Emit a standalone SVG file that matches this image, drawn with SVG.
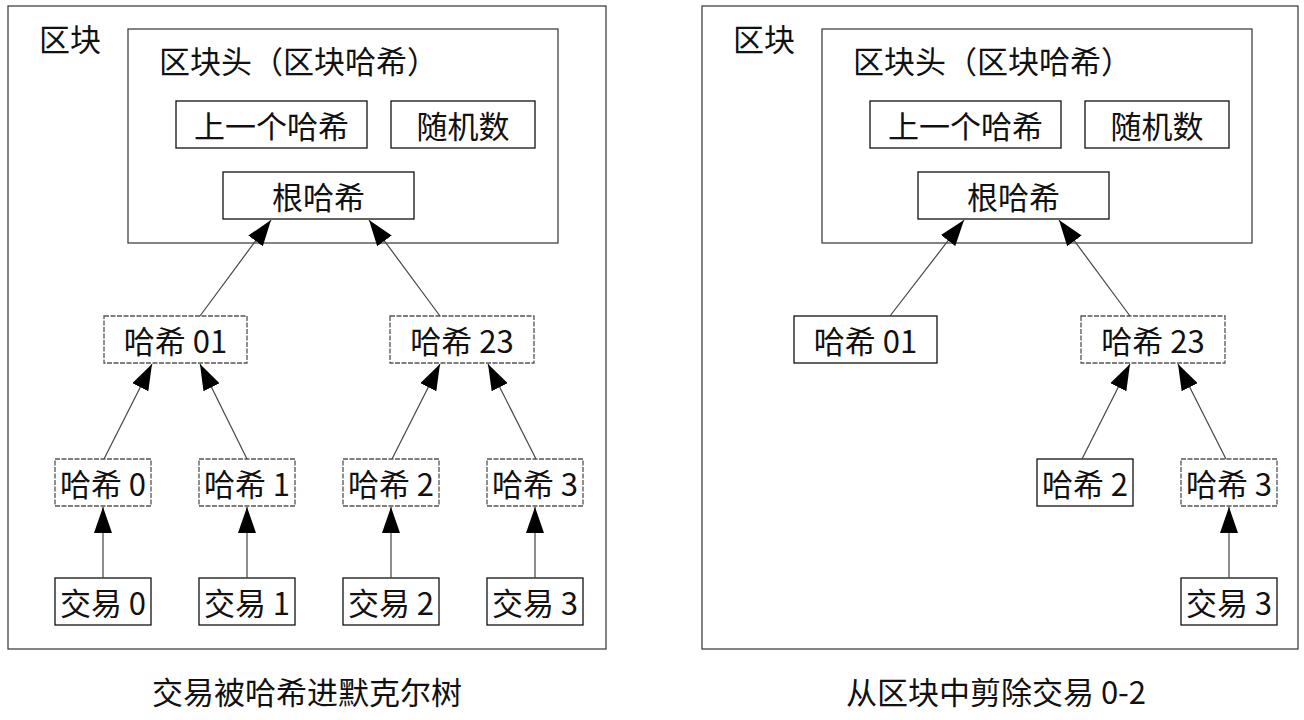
<svg xmlns="http://www.w3.org/2000/svg" width="1304" height="720" viewBox="0 0 1304 720">
<style>
.frame{fill:#fff;stroke:#333;stroke-width:1.2}
.box{fill:#fff;stroke:#111;stroke-width:1.3}
.dbox{fill:#fff;stroke:#555;stroke-width:1.3;stroke-dasharray:5 1.5}
.t{font-family:"Noto Sans CJK SC","DejaVu Sans",sans-serif;font-size:31px;fill:#111}
.c{text-anchor:middle;dominant-baseline:central}
.edge{stroke:#444;stroke-width:1.2;fill:none;marker-end:url(#ah)}
</style>
<defs>
<marker id="ah" markerUnits="userSpaceOnUse" markerWidth="27" markerHeight="18" refX="26" refY="9" orient="auto" viewBox="0 0 27 18">
<path d="M0,0 L26,9 L0,18 z" fill="#000"/>
</marker>
</defs>
<rect width="1304" height="720" fill="#fff"/>
<g id="left">
<g id="L-block"><rect class="frame" x="8" y="6" width="598" height="643"/><text class="t" x="39" y="51">区块</text></g>
<g id="L-header"><rect class="frame" x="128" y="29" width="430" height="214"/><text class="t" x="159" y="73">区块头（区块哈希）</text></g>
<g id="L-prev"><rect class="box" x="176" y="101" width="191" height="47"/><text class="t c" x="271.5" y="124.5">上一个哈希</text></g>
<g id="L-nonce"><rect class="box" x="391" y="101" width="144" height="47"/><text class="t c" x="463" y="124.5">随机数</text></g>
<g id="L-root"><rect class="box" x="223" y="172" width="191" height="47"/><text class="t c" x="318.5" y="195.5">根哈希</text></g>
<g id="L-h01"><rect class="dbox" x="104" y="316" width="143" height="47"/><text class="t c" x="175.5" y="339.5">哈希 01</text></g>
<g id="L-h23"><rect class="dbox" x="390" y="316" width="144" height="47"/><text class="t c" x="462" y="339.5">哈希 23</text></g>
<g id="L-h0"><rect class="dbox" x="55" y="459" width="96" height="47"/><text class="t c" x="103" y="482.5">哈希 0</text></g>
<g id="L-h1"><rect class="dbox" x="199" y="459" width="96" height="47"/><text class="t c" x="247" y="482.5">哈希 1</text></g>
<g id="L-h2"><rect class="dbox" x="343" y="459" width="96" height="47"/><text class="t c" x="391" y="482.5">哈希 2</text></g>
<g id="L-h3"><rect class="dbox" x="487" y="459" width="96" height="47"/><text class="t c" x="535" y="482.5">哈希 3</text></g>
<g id="L-tx0"><rect class="box" x="55" y="578" width="96" height="47"/><text class="t c" x="103" y="601.5">交易 0</text></g>
<g id="L-tx1"><rect class="box" x="199" y="578" width="96" height="47"/><text class="t c" x="247" y="601.5">交易 1</text></g>
<g id="L-tx2"><rect class="box" x="343" y="578" width="96" height="47"/><text class="t c" x="391" y="601.5">交易 2</text></g>
<g id="L-tx3"><rect class="box" x="487" y="578" width="96" height="47"/><text class="t c" x="535" y="601.5">交易 3</text></g>
<text id="L-caption" class="t" x="307" y="704" text-anchor="middle">交易被哈希进默克尔树</text>
</g>
<g id="right">
<g id="R-block"><rect class="frame" x="702" y="6" width="596" height="643"/><text class="t" x="733" y="51">区块</text></g>
<g id="R-header"><rect class="frame" x="822" y="29" width="430" height="214"/><text class="t" x="853" y="73">区块头（区块哈希）</text></g>
<g id="R-prev"><rect class="box" x="870" y="101" width="191" height="47"/><text class="t c" x="965.5" y="124.5">上一个哈希</text></g>
<g id="R-nonce"><rect class="box" x="1085" y="101" width="144" height="47"/><text class="t c" x="1157" y="124.5">随机数</text></g>
<g id="R-root"><rect class="box" x="918" y="172" width="191" height="47"/><text class="t c" x="1013.5" y="195.5">根哈希</text></g>
<g id="R-h01"><rect class="box" x="794" y="316" width="143" height="47"/><text class="t c" x="865.5" y="339.5">哈希 01</text></g>
<g id="R-h23"><rect class="dbox" x="1081" y="316" width="144" height="47"/><text class="t c" x="1153" y="339.5">哈希 23</text></g>
<g id="R-h2"><rect class="box" x="1037" y="459" width="96" height="47"/><text class="t c" x="1085" y="482.5">哈希 2</text></g>
<g id="R-h3"><rect class="dbox" x="1181" y="459" width="96" height="47"/><text class="t c" x="1229" y="482.5">哈希 3</text></g>
<g id="R-tx3"><rect class="box" x="1181" y="578" width="96" height="47"/><text class="t c" x="1229" y="601.5">交易 3</text></g>
<text id="R-caption" class="t" x="996" y="704" text-anchor="middle">从区块中剪除交易 0-2</text>
</g>
<g id="connectors">
<line class="edge" x1="200" y1="316" x2="271" y2="220"/>
<line class="edge" x1="440" y1="316" x2="369" y2="220"/>
<line class="edge" x1="104" y1="459" x2="152" y2="364"/>
<line class="edge" x1="247" y1="459" x2="200" y2="364"/>
<line class="edge" x1="392" y1="459" x2="440" y2="364"/>
<line class="edge" x1="536" y1="459" x2="488" y2="364"/>
<line class="edge" x1="103" y1="578" x2="103" y2="507"/>
<line class="edge" x1="247" y1="578" x2="247" y2="507"/>
<line class="edge" x1="391" y1="578" x2="391" y2="507"/>
<line class="edge" x1="535" y1="578" x2="535" y2="507"/>
<line class="edge" x1="890" y1="316" x2="964" y2="220"/>
<line class="edge" x1="1130" y1="316" x2="1059" y2="220"/>
<line class="edge" x1="1082" y1="459" x2="1130" y2="364"/>
<line class="edge" x1="1226" y1="459" x2="1178" y2="364"/>
<line class="edge" x1="1229" y1="578" x2="1229" y2="507"/>
</g>
</svg>
